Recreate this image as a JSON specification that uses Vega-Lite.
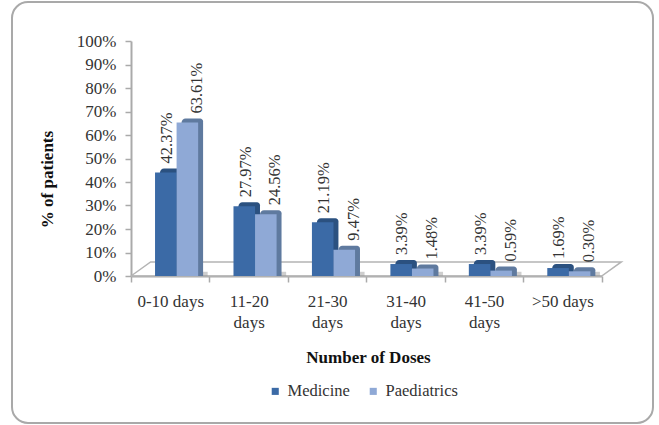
{
"$schema":"https://vega.github.io/schema/vega-lite/v6.json",
"width":641,"height":421,
"autosize":"none",
"padding":{"left":12,"top":2,"right":6,"bottom":2},
"background":"#ffffff",
"view":{"stroke":"#a9a9a9","strokeWidth":2,"cornerRadius":16,"fill":"#ffffff"},
"config":{"font":"Liberation Serif"},
"datasets":{
"rows":[
{"cat":"0-10 days","series":"Medicine","value":0.4237},
{"cat":"0-10 days","series":"Paediatrics","value":0.6361},
{"cat":"11-20 days","series":"Medicine","value":0.2797},
{"cat":"11-20 days","series":"Paediatrics","value":0.2456},
{"cat":"21-30 days","series":"Medicine","value":0.2119},
{"cat":"21-30 days","series":"Paediatrics","value":0.0947},
{"cat":"31-40 days","series":"Medicine","value":0.0339},
{"cat":"31-40 days","series":"Paediatrics","value":0.0148},
{"cat":"41-50 days","series":"Medicine","value":0.0339},
{"cat":"41-50 days","series":"Paediatrics","value":0.0059},
{"cat":">50 days","series":"Medicine","value":0.0169},
{"cat":">50 days","series":"Paediatrics","value":0.0030}
],
"floor":[
{"i":0,"fx":0,"fy":0},
{"i":1,"fx":0.25,"fy":0.06},
{"i":2,"fx":6.25,"fy":0.06},
{"i":3,"fx":6,"fy":0},
{"i":4,"fx":0,"fy":0}
]
},
"resolve":{"scale":{"x":"independent"},"axis":{"x":"independent"}},
"layer":[
{
"data":{"name":"floor"},
"mark":{"type":"line","stroke":"#b4b4b4","strokeWidth":1.5,"interpolate":"linear"},
"encoding":{
"x":{"field":"fx","type":"quantitative","axis":null,"scale":{"domain":[0,6],"range":[119,589.7],"nice":false,"zero":false}},
"y":{"field":"fy","type":"quantitative","scale":{"domain":[0,1],"range":[274,39],"nice":false},
"axis":{"format":".0%","title":"% of patients","titleFontWeight":"bold","titleFontSize":17,"titleColor":"#111","titleFont":"Liberation Serif","titleX":-75,"titleY":177,"offset":-119,"values":[0,0.1,0.2,0.3,0.4,0.5,0.6,0.7,0.8,0.9,1],"grid":false,"labelFontSize":17,"labelColor":"#333","labelFont":"Liberation Serif","labelPadding":9,"tickSize":6,"tickColor":"#aaa","tickWidth":1.5,"domainColor":"#aaa","domainWidth":2}},
"order":{"field":"i"}
}
},
{
"data":{"name":"rows"},
"resolve":{"scale":{"xOffset":"independent","color":"independent"}},
"encoding":{
"x":{"field":"cat","type":"nominal","sort":null,
"scale":{"range":[119,589.7],"paddingInner":0,"paddingOuter":0},
"axis":{"title":"Number of Doses","titleFontWeight":"bold","titleFontSize":17,"titleColor":"#111","titleX":356,"titleY":73,"titleFont":"Liberation Serif",
"offset":-147,"labelAngle":0,"labelFontSize":17,"labelColor":"#333","labelFont":"Liberation Serif","labelLineHeight":21,"labelPadding":11,"tickBand":"extent","tickSize":6,"tickColor":"#aaa","tickWidth":1.5,"domainColor":"#aaa","domainWidth":2,"labelLimit":200,
"labelExpr":"datum.label == '0-10 days' || datum.label == '>50 days' ? datum.label : split(datum.label, ' ')"}}
},
"layer":[
{"mark":{"type":"bar","fill":"#5c5c5c","opacity":0.3},
"encoding":{
"xOffset":{"field":"series","type":"nominal","sort":["Medicine","Paediatrics"],"scale":{"paddingInner":0,"paddingOuter":0.82,"align":0.95}},
"y":{"datum":0.018,"type":"quantitative"},"y2":{"datum":0.002}}},
{"mark":{"type":"bar","yOffset":-8,"y2Offset":-4,"cornerRadiusTopLeft":4,"cornerRadiusTopRight":3},
"encoding":{
"xOffset":{"field":"series","type":"nominal","sort":["Medicine","Paediatrics"],"scale":{"paddingInner":0,"paddingOuter":0.82,"align":0.82}},
"y":{"field":"value","type":"quantitative","stack":null},
"color":{"field":"series","type":"nominal","legend":null,"scale":{"domain":["Medicine","Paediatrics"],"range":["#2b5180","#5f7a9f"]}}}},
{"mark":{"type":"bar","yOffset":-4,"y2Offset":-4},
"encoding":{
"xOffset":{"field":"series","type":"nominal","sort":["Medicine","Paediatrics"],"scale":{"paddingInner":0,"paddingOuter":0.82,"align":0.68}},
"y":{"field":"value","type":"quantitative","stack":null},
"color":{"field":"series","type":"nominal","scale":{"domain":["Medicine","Paediatrics"],"range":["#3b6aa6","#8fa9d6"]},
"legend":{"title":null,"orient":"none","legendX":255,"legendY":381,"direction":"horizontal","columns":2,"columnPadding":15,"symbolType":"square","symbolSize":50,"labelFontSize":16.5,"labelColor":"#333","labelFont":"Liberation Serif","labelOffset":4}}
}},
{"mark":{"type":"text","angle":270,"align":"left","baseline":"middle","fontSize":16.5,"fill":"#333","yOffset":-13,"dy":3},
"encoding":{
"xOffset":{"field":"series","type":"nominal","sort":["Medicine","Paediatrics"],"scale":{"paddingInner":0,"paddingOuter":0.82,"align":0.68}},
"y":{"field":"value","type":"quantitative"},"text":{"field":"value","type":"quantitative","format":".2%"}}}
]
}
]
}
